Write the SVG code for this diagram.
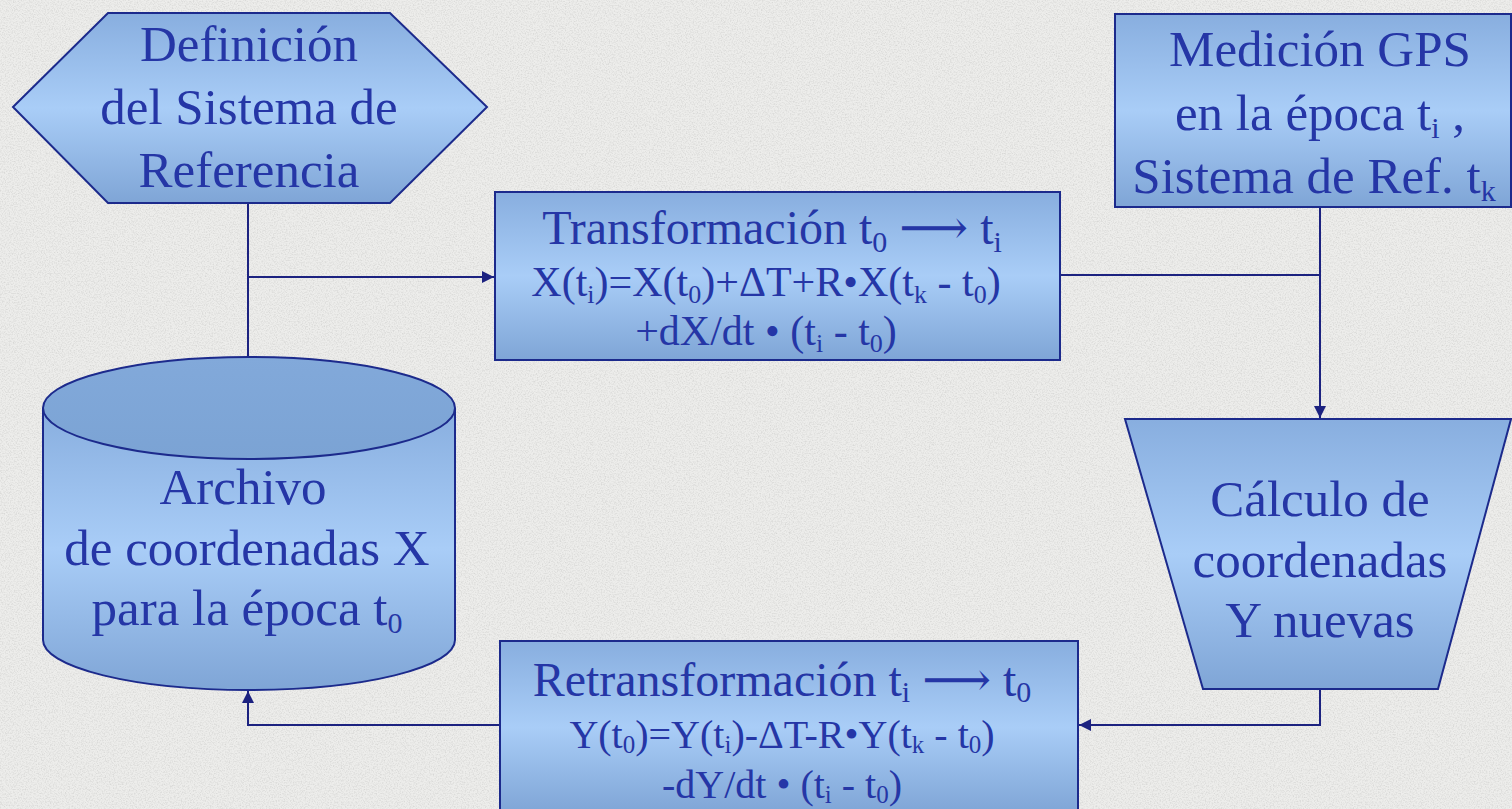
<svg xmlns="http://www.w3.org/2000/svg" width="1512" height="809" viewBox="0 0 1512 809">
<style>
.node{stroke:#1c2a8c;stroke-width:2;}
.t{font-family:"Liberation Serif","Times New Roman","DejaVu Serif",serif;fill:#2536a6;text-anchor:middle;}
.big{font-size:51px;}
.mid{font-size:48px;}
.sm{font-size:42px;}
.sb{font-size:40px;}
.conn{fill:none;stroke:#1c2280;stroke-width:2;}
</style>
<defs>
<linearGradient id="g" x1="0" y1="0" x2="0" y2="1">
<stop offset="0" stop-color="#88aedf"/>
<stop offset="0.5" stop-color="#a9cdf7"/>
<stop offset="1" stop-color="#7fa5d6"/>
</linearGradient>
<linearGradient id="gtop" x1="0" y1="0" x2="0" y2="1">
<stop offset="0" stop-color="#82a9da"/>
<stop offset="1" stop-color="#7ba3d4"/>
</linearGradient>
<filter id="grain" x="0" y="0" width="100%" height="100%">
<feTurbulence type="fractalNoise" baseFrequency="0.75" numOctaves="3" seed="7"/>
<feColorMatrix type="matrix" values="0 0 0 0 0.5  0 0 0 0 0.5  0 0 0 0 0.49  1.0 0 0 0 -0.42"/>
</filter>
<marker id="arr" viewBox="0 0 10 10" refX="10" refY="5" markerWidth="12" markerHeight="12" markerUnits="userSpaceOnUse" orient="auto">
<path d="M0,0 L10,5 L0,10 z" fill="#1c2280"/>
</marker>
</defs>
<rect width="1512" height="809" fill="#ededeb"/>
<rect width="1512" height="809" filter="url(#grain)"/>

<g id="connectors">
<path class="conn" d="M248,203 V360"/>
<path class="conn" d="M248,277 H494" marker-end="url(#arr)"/>
<path class="conn" d="M1060,275 H1320"/>
<path class="conn" d="M1320,207 V418" marker-end="url(#arr)"/>
<path class="conn" d="M1320,689 V725 H1079" marker-end="url(#arr)"/>
<path class="conn" d="M500,725 H248 V691" marker-end="url(#arr)"/>
</g>

<g id="definicion">
<polygon class="node" fill="url(#g)" points="13,107 108,13 390,13 487,107 390,203 108,203"/>
<text class="t big" x="249" y="61">Definición</text>
<text class="t big" x="249" y="124">del Sistema de</text>
<text class="t big" x="249" y="187">Referencia</text>
</g>

<g id="medicion">
<rect class="node" fill="url(#g)" x="1115" y="14" width="396" height="193"/>
<text class="t big" x="1320" y="66">Medición GPS</text>
<text class="t big" x="1320" y="130">en la época t<tspan font-size="30" dy="8">i</tspan><tspan dy="-8"> ,</tspan></text>
<text class="t big" x="1314" y="193">Sistema de Ref. t<tspan font-size="30" dy="8">k</tspan></text>
</g>

<g id="transformacion">
<rect class="node" fill="url(#g)" x="495" y="192" width="565" height="168"/>
<text class="t mid" x="772" y="244">Transformación t<tspan font-size="30" dy="8">0</tspan><tspan dy="-8"> ⟶ t</tspan><tspan font-size="30" dy="8">i</tspan></text>
<text class="t sm" x="766" y="296">X(t<tspan font-size="26" dy="7">i</tspan><tspan dy="-7">)=X(t</tspan><tspan font-size="26" dy="7">0</tspan><tspan dy="-7">)+ΔT+R•X(t</tspan><tspan font-size="26" dy="7">k</tspan><tspan dy="-7"> - t</tspan><tspan font-size="26" dy="7">0</tspan><tspan dy="-7">)</tspan></text>
<text class="t sm" x="766" y="345">+dX/dt • (t<tspan font-size="26" dy="7">i</tspan><tspan dy="-7"> - t</tspan><tspan font-size="26" dy="7">0</tspan><tspan dy="-7">)</tspan></text>
</g>

<g id="archivo">
<path class="node" fill="url(#g)" d="M43,408 V640 A206,50 0 0 0 455,640 V408"/>
<ellipse class="node" fill="url(#gtop)" cx="249" cy="408" rx="206" ry="51"/>
<text class="t big" x="243" y="504">Archivo</text>
<text class="t big" x="247" y="565">de coordenadas X</text>
<text class="t big" x="247" y="625">para la época t<tspan font-size="30" dy="8">0</tspan></text>
</g>

<g id="calculo">
<polygon class="node" fill="url(#g)" points="1125,419 1511,419 1438,689 1203,689"/>
<text class="t big" x="1320" y="516">Cálculo de</text>
<text class="t big" x="1320" y="577">coordenadas</text>
<text class="t big" x="1320" y="637">Y nuevas</text>
</g>

<g id="retransformacion">
<rect class="node" fill="url(#g)" x="500" y="641" width="578" height="172"/>
<text class="t mid" x="782" y="696">Retransformación t<tspan font-size="30" dy="6">i</tspan><tspan dy="-6"> ⟶ t</tspan><tspan font-size="30" dy="6">0</tspan></text>
<text class="t sb" x="782" y="748">Y(t<tspan font-size="25" dy="5">0</tspan><tspan dy="-5">)=Y(t</tspan><tspan font-size="25" dy="5">i</tspan><tspan dy="-5">)-ΔT-R•Y(t</tspan><tspan font-size="25" dy="5">k</tspan><tspan dy="-5"> - t</tspan><tspan font-size="25" dy="5">0</tspan><tspan dy="-5">)</tspan></text>
<text class="t sb" x="782" y="798">-dY/dt • (t<tspan font-size="25" dy="5">i</tspan><tspan dy="-5"> - t</tspan><tspan font-size="25" dy="5">0</tspan><tspan dy="-5">)</tspan></text>
</g>
</svg>
